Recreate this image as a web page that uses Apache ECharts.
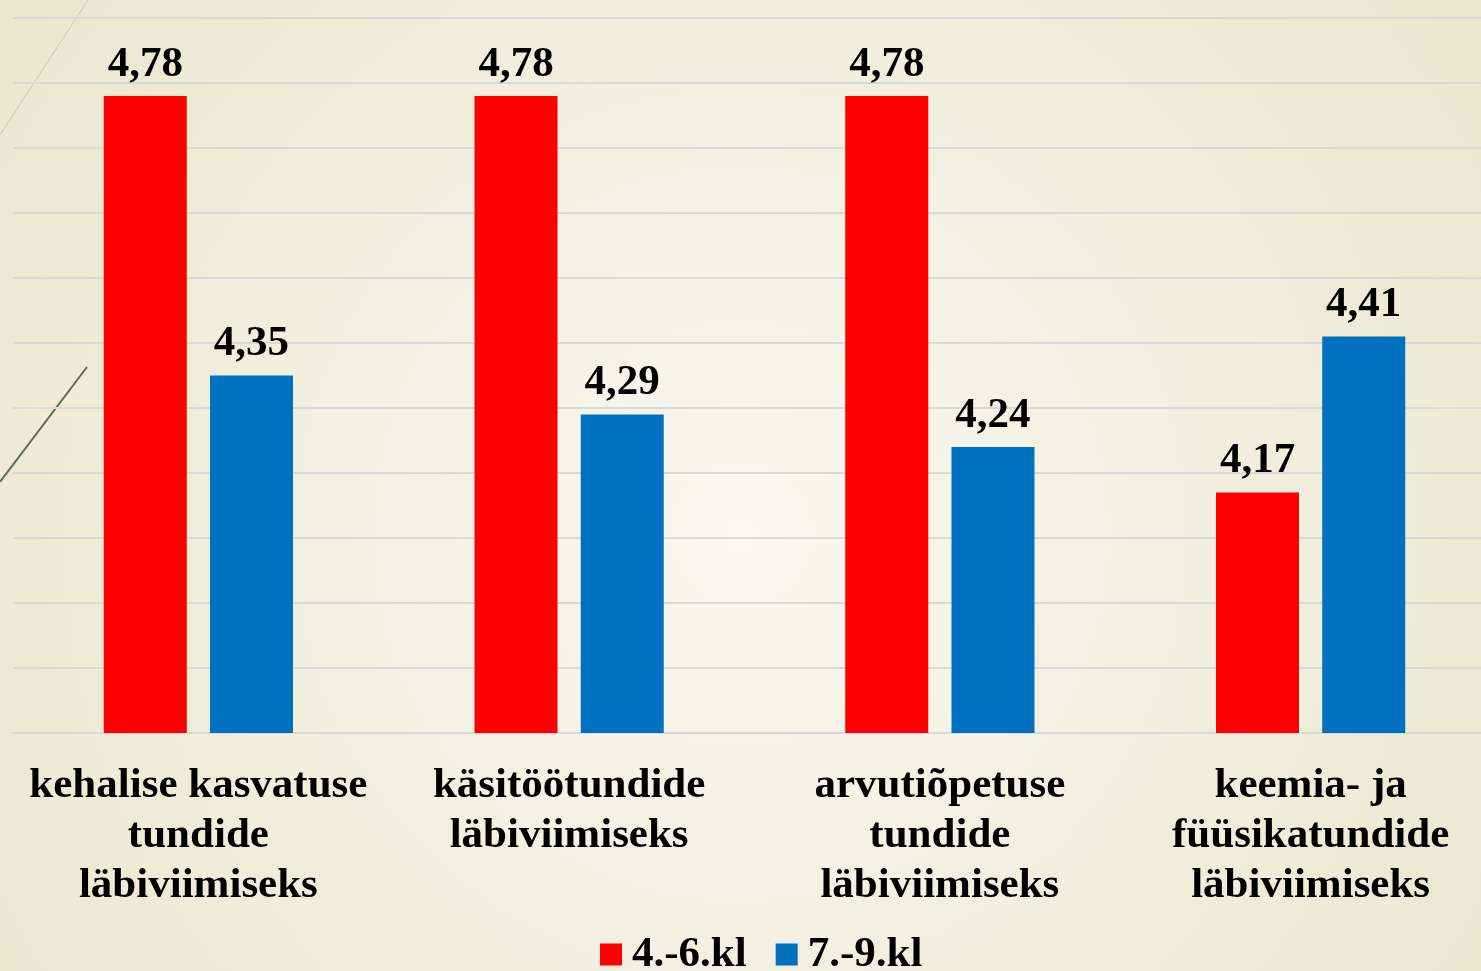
<!DOCTYPE html>
<html>
<head>
<meta charset="utf-8">
<script src="https://cdn.jsdelivr.net/npm/echarts@6/dist/echarts.min.js"></script>
<style>
  html, body { margin: 0; padding: 0; }
  #chart { width: 1481px; height: 971px; }
</style>
</head>
<body>
<div id="chart"></div>
<script>
// andmed
const categories = [
  'kehalise kasvatuse\ntundide\nläbiviimiseks',
  'käsitöötundide\nläbiviimiseks',
  'arvutiõpetuse\ntundide\nläbiviimiseks',
  'keemia- ja\nfüüsikatundide\nläbiviimiseks'
]
const seriesNames = ['4.-6.kl', '7.-9.kl']
const values46 = [4.78, 4.78, 4.78, 4.17]
const values79 = [4.35, 4.29, 4.24, 4.41]

const font = "'Liberation Serif', 'Times New Roman', serif"

const chart = echarts.init(document.getElementById('chart'))

const labelStyle = {
  show: true,
  position: 'top',
  distance: 10,
  fontFamily: font,
  fontSize: 43,
  fontWeight: 'bold',
  color: '#000',
  formatter: (p) => p.value.toFixed(2).replace('.', ',')
}

const option = {
  backgroundColor: {
    type: 'radial',
    x: 0.5,
    y: 0.55,
    r: 0.9,
    colorStops: [
      { offset: 0, color: '#f9f8f1' },
      { offset: 1, color: '#ebe7cf' }
    ]
  },
  graphic: [
    {
      type: 'line',
      z: -1,
      shape: { x1: 88, y1: 0, x2: 0, y2: 135 },
      style: { stroke: '#c9c9b4', lineWidth: 1 }
    },
    {
      type: 'line',
      z: -1,
      shape: { x1: 87, y1: 367, x2: 0, y2: 482 },
      style: { stroke: '#5d6e4a', lineWidth: 2 }
    }
  ],
  grid: {
    left: 13,
    top: 18,
    width: 1483,
    height: 715,
    outerBoundsMode: 'none'
  },
  legend: {
    left: 600,
    top: 933,
    padding: 0,
    itemWidth: 22,
    itemHeight: 22,
    itemGap: 29,
    icon: 'rect',
    textStyle: {
      fontFamily: font,
      fontSize: 43,
      fontWeight: 'bold',
      color: '#000',
      padding: [0, 0, 0, 5]
    },
    data: seriesNames
  },
  xAxis: {
    type: 'category',
    data: categories,
    axisLine: { lineStyle: { color: '#d9d9d9', width: 2 } },
    axisTick: { show: false },
    axisLabel: {
      interval: 0,
      margin: 28,
      fontFamily: font,
      fontSize: 43,
      fontWeight: 'bold',
      lineHeight: 50,
      color: '#000'
    }
  },
  yAxis: {
    type: 'value',
    min: 3.8,
    max: 4.9,
    interval: 0.1,
    axisLine: { show: false },
    axisTick: { show: false },
    axisLabel: { show: false },
    splitLine: { lineStyle: { color: '#d9d9d9', width: 2 } }
  },
  series: [
    {
      name: seriesNames[0],
      type: 'bar',
      data: values46,
      barWidth: 83,
      barGap: '28%',
      itemStyle: { color: '#ff0000' },
      label: labelStyle
    },
    {
      name: seriesNames[1],
      type: 'bar',
      data: values79,
      barWidth: 83,
      itemStyle: { color: '#0070c0' },
      label: labelStyle
    }
  ]
}

chart.setOption(option)
</script>
</body>
</html>
